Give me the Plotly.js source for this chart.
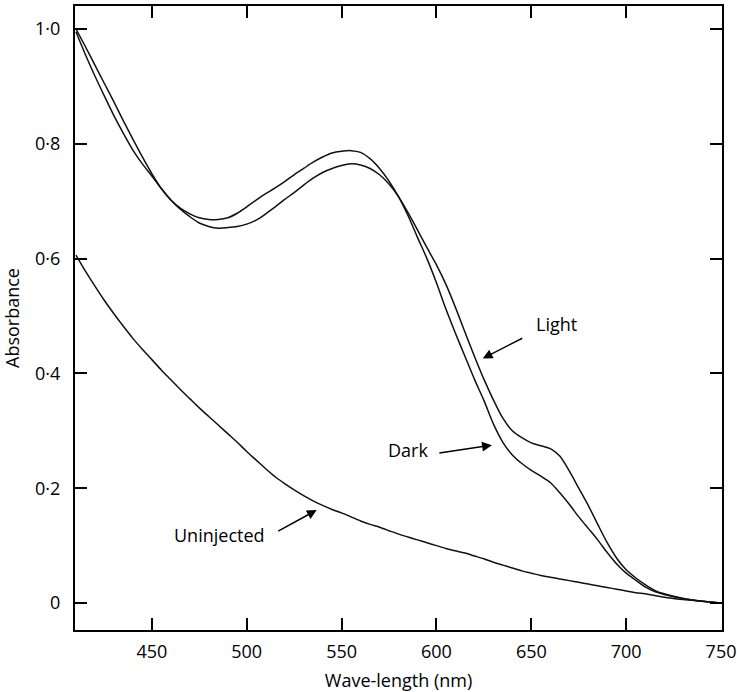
<!DOCTYPE html>
<html>
<head>
<meta charset="utf-8">
<script src="https://cdn.plot.ly/plotly-3.0.1.min.js"></script>
<style>html,body{margin:0;padding:0;background:#fff;}#chart{width:737px;height:692px;}</style>
</head>
<body>
<div id="chart"></div>
<script>
// Wavelength grid (nm)
const wavelength = [410,415,420,425,430,435,440,445,450,455,460,465,470,475,480,485,490,495,500,505,510,515,520,525,530,535,540,545,550,555,560,565,570,575,580,585,590,595,600,605,610,615,620,625,630,635,640,645,650,655,660,665,670,675,680,685,690,695,700,705,710,715,720,730,740,750];

// Dark spectrum (higher at the 555 nm peak, lower shoulder at 660 nm)
const darkAbs = [1.000,0.969,0.937,0.905,0.873,0.840,0.808,0.777,0.748,0.722,0.702,0.688,0.678,0.671,0.668,0.668,0.671,0.679,0.690,0.702,0.713,0.723,0.734,0.746,0.757,0.768,0.777,0.784,0.787,0.788,0.785,0.774,0.757,0.735,0.708,0.675,0.637,0.600,0.558,0.512,0.470,0.430,0.390,0.353,0.312,0.280,0.258,0.243,0.231,0.221,0.210,0.192,0.172,0.150,0.130,0.110,0.088,0.068,0.052,0.040,0.028,0.020,0.015,0.008,0.003,0.000];

// Light spectrum (lower at the peak, higher shoulder at 660 nm)
const lightAbs = [0.995,0.955,0.918,0.883,0.849,0.818,0.789,0.765,0.744,0.722,0.702,0.686,0.673,0.662,0.656,0.653,0.654,0.656,0.660,0.667,0.678,0.690,0.703,0.715,0.728,0.740,0.750,0.757,0.762,0.765,0.763,0.757,0.746,0.730,0.708,0.680,0.650,0.619,0.589,0.555,0.515,0.472,0.430,0.390,0.354,0.322,0.300,0.288,0.279,0.274,0.269,0.256,0.230,0.200,0.170,0.137,0.105,0.078,0.058,0.044,0.032,0.022,0.016,0.008,0.003,0.000];

// Uninjected spectrum
const uninjectedAbs = [0.606,0.578,0.552,0.527,0.504,0.482,0.461,0.442,0.424,0.406,0.389,0.372,0.356,0.340,0.325,0.310,0.295,0.280,0.264,0.249,0.234,0.220,0.208,0.197,0.187,0.178,0.170,0.163,0.157,0.150,0.143,0.137,0.132,0.126,0.120,0.115,0.110,0.105,0.100,0.095,0.091,0.087,0.082,0.077,0.071,0.066,0.061,0.056,0.052,0.048,0.045,0.042,0.039,0.036,0.033,0.030,0.027,0.024,0.021,0.018,0.016,0.013,0.010,0.006,0.003,0.000];

// Tick labels
const xTickVals = [450,500,550,600,650,700,750];
const xTickText = ['450','500','550','600','650','700','750'];
const yTickVals = [0,0.2,0.4,0.6,0.8,1.0];
const yTickText = ['0','0·2','0·4','0·6','0·8','1·0'];

const FONT = '"Open Sans", Lato, "DejaVu Sans", sans-serif';
const lineStyle = {color:'#111', width:1.5, shape:'spline', smoothing:0.8};
const txt = {family:FONT, size:18, color:'#000'};

const traces = [
  {x: wavelength, y: darkAbs, mode:'lines', name:'Dark', line: lineStyle},
  {x: wavelength, y: lightAbs, mode:'lines', name:'Light', line: lineStyle},
  {x: wavelength, y: uninjectedAbs, mode:'lines', name:'Uninjected', line: lineStyle}
];

const layout = {
  width: 737, height: 692,
  margin: {l:75, r:15, t:6, b:62},
  paper_bgcolor:'#fff', plot_bgcolor:'#fff',
  showlegend:false,
  font:txt,
  xaxis:{
    range:[409.5,750.5], tickvals:xTickVals, ticktext:xTickText,
    ticks:'inside', ticklen:12, tickwidth:2, tickcolor:'#000',
    showline:true, linewidth:2, linecolor:'#000', mirror:'ticks',
    showgrid:false, zeroline:false, ticklabelstandoff:4,
    tickfont:txt,
    title:{text:'Wave-length (nm)', font:txt, standoff:14}
  },
  yaxis:{
    range:[-0.047,1.040], tickvals:yTickVals, ticktext:yTickText,
    ticks:'inside', ticklen:12, tickwidth:2, tickcolor:'#000',
    showline:true, linewidth:2, linecolor:'#000', mirror:'ticks',
    showgrid:false, zeroline:false, ticklabelstandoff:9,
    tickfont:txt,
    title:{text:'Absorbance', font:txt, standoff:14}
  },
  annotations:[
    {x:624.4, y:0.426, ax:41, ay:-21, text:'', showarrow:true, arrowhead:2, arrowsize:1.3, arrowwidth:1.5, arrowcolor:'#000'},
    {x:663.1, y:0.486, text:'Light', showarrow:false, font:txt},
    {x:629.2, y:0.275, ax:-54, ay:8, text:'', showarrow:true, arrowhead:2, arrowsize:1.3, arrowwidth:1.5, arrowcolor:'#000'},
    {x:585.0, y:0.2666, text:'Dark', showarrow:false, font:txt},
    {x:536.9, y:0.162, ax:-40, ay:22, text:'', showarrow:true, arrowhead:2, arrowsize:1.3, arrowwidth:1.5, arrowcolor:'#000'},
    {x:485.9, y:0.118, text:'Uninjected', showarrow:false, font:txt}
  ]
};

Plotly.newPlot('chart', traces, layout, {staticPlot:true, displayModeBar:false});
</script>
</body>
</html>
